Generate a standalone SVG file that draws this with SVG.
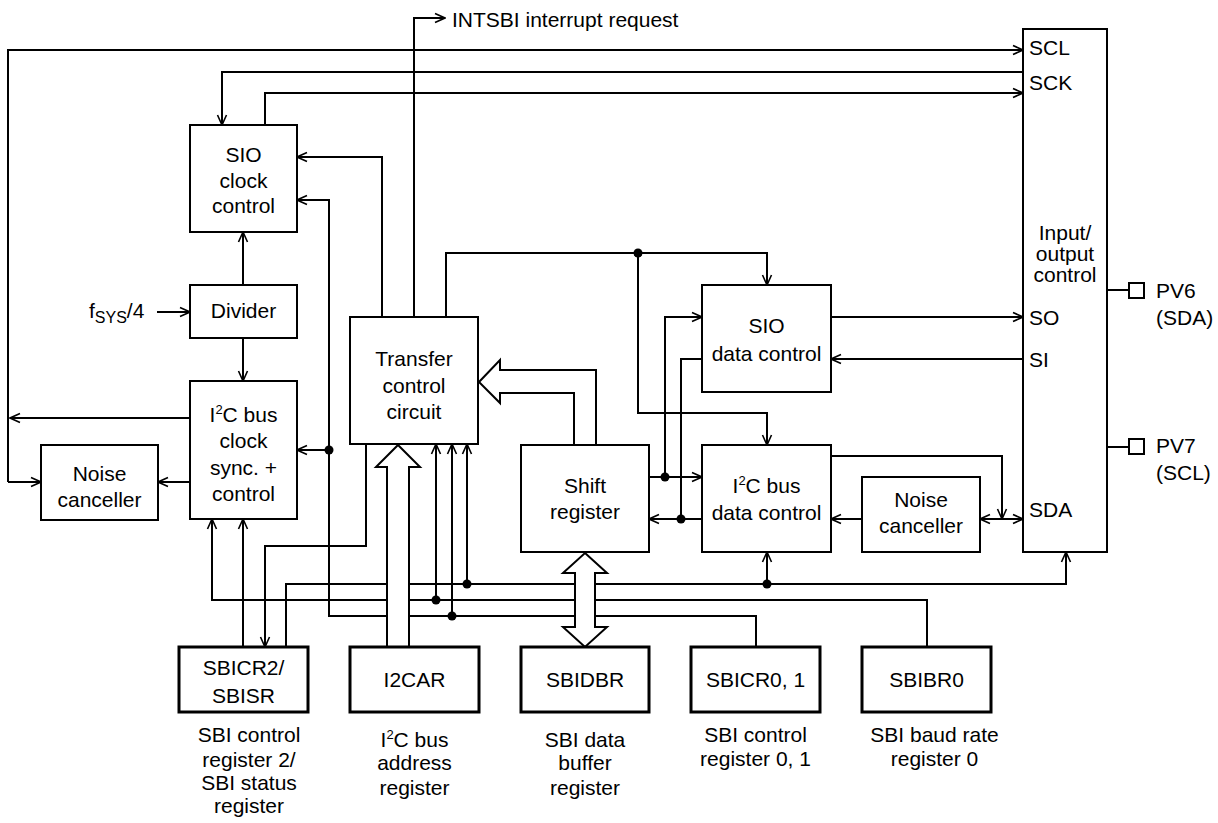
<svg xmlns="http://www.w3.org/2000/svg" width="1218" height="823" viewBox="0 0 1218 823">
<style>
text{font-family:"Liberation Sans",Arial,sans-serif;font-size:21px;fill:#000}
.c{text-anchor:middle}
.ln{fill:none;stroke:#000;stroke-width:2}
.ar{marker-end:url(#ah)}
.box{fill:#fff;stroke:#000;stroke-width:2}
.reg{fill:#fff;stroke:#000;stroke-width:3}
.hol{fill:#fff;stroke:#000;stroke-width:2;stroke-linejoin:miter}
.dot{fill:#000}
.sup{font-size:13px}
</style>
<defs>
<marker id="ah" viewBox="-12 -6 13 12" refX="0" refY="0" markerWidth="13" markerHeight="12" orient="auto-start-reverse" markerUnits="userSpaceOnUse">
<path d="M-10,-4.5 L0,0 L-10,4.5" fill="none" stroke="#000" stroke-width="1.6"/>
</marker>
</defs>
<g id="connectors">
<path class="ln ar" d="M190,418 L10,418"/>
<path class="ln ar" d="M8,482 L8,50 L1023,50"/>
<path class="ln ar" d="M8,482 L41,482"/>
<path class="ln ar" d="M1023,72 L222,72 L222,125"/>
<path class="ln ar" d="M265,125 L265,93 L1023,93"/>
<path class="ln ar" d="M414,317 L414,18 L445,18"/>
<path class="ln ar" d="M382,317 L382,157 L297,157"/>
<path class="ln ar" d="M756,647 L756,616 L329,616 L329,200 L297,200"/>
<path class="ln ar" d="M329,450 L297,450"/>
<path class="ln ar" d="M452,616 L452,444"/>
<path class="ln ar" d="M927,647 L927,600 L212,600 L212,519"/>
<path class="ln ar" d="M436,600 L436,444"/>
<path class="ln ar" d="M286,647 L286,584 L1066,584 L1066,552"/>
<path class="ln ar" d="M467,584 L467,444"/>
<path class="ln ar" d="M767,584 L767,552"/>
<path class="ln ar" d="M243,647 L243,519"/>
<path class="ln ar" d="M366,444 L366,546 L265,546 L265,647"/>
<path class="ln ar" d="M243,285 L243,232"/>
<path class="ln ar" d="M243,338 L243,381"/>
<path class="ln ar" d="M157,312 L190,312"/>
<path class="ln ar" d="M190,482 L158,482"/>
<path class="ln ar" d="M446,317 L446,253 L767,253 L767,285"/>
<path class="ln ar" d="M638,253 L638,413 L767,413 L767,445"/>
<path class="ln ar" d="M649,477 L702,477"/>
<path class="ln ar" d="M665,477 L665,317 L702,317"/>
<path class="ln ar" d="M702,519 L649,519"/>
<path class="ln" d="M702,359 L681,359 L681,519"/>
<path class="ln ar" d="M831,317 L1023,317"/>
<path class="ln ar" d="M1023,359 L831,359"/>
<path class="ln ar" d="M831,456 L1002,456 L1002,519"/>
<path class="ln ar" d="M980,519 L1023,519" marker-start="url(#ah)"/>
<path class="ln ar" d="M862,519 L831,519"/>
<path class="ln" d="M1107,290 L1129,290"/>
<path class="ln" d="M1107,447 L1129,447"/>
<circle class="dot" cx="329" cy="450" r="4.5"/>
<circle class="dot" cx="452" cy="616" r="4.5"/>
<circle class="dot" cx="436" cy="600" r="4.5"/>
<circle class="dot" cx="467" cy="584" r="4.5"/>
<circle class="dot" cx="767" cy="584" r="4.5"/>
<circle class="dot" cx="638" cy="253" r="4.5"/>
<circle class="dot" cx="665" cy="477" r="4.5"/>
<circle class="dot" cx="681" cy="519" r="4.5"/>
<polygon class="hol" points="398,445 420,467 409,467 409,647 387,647 387,467 376,467"/>
<polygon class="hol" points="585,553 607,573 595,573 595,627 607,627 585,647 563,627 575,627 575,573 563,573"/>
<polygon class="hol" points="479,382 500,360 500,370 596,370 596,445 574,445 574,393 500,393 500,403"/>
<text x="452" y="27">INTSBI interrupt request</text>
<text x="89" y="318">f<tspan font-size="16" dy="5">SYS</tspan><tspan dy="-5">/4</tspan></text>
</g>
<g id="sio-clock-control">
<rect class="box" x="190" y="125" width="107" height="107"/>
<text class="c" x="243.5" y="162">SIO</text>
<text class="c" x="243.5" y="188">clock</text>
<text class="c" x="243.5" y="213">control</text>
</g>
<g id="divider">
<rect class="box" x="190" y="285" width="107" height="53"/>
<text class="c" x="243.5" y="318">Divider</text>
</g>
<g id="i2c-clock-sync">
<rect class="box" x="190" y="381" width="107" height="138"/>
<text class="c" x="243.5" y="422">I<tspan class="sup" dy="-8">2</tspan><tspan dy="8">C bus</tspan></text>
<text class="c" x="243.5" y="448">clock</text>
<text class="c" x="243.5" y="475">sync. +</text>
<text class="c" x="243.5" y="501">control</text>
</g>
<g id="noise-canceller-1">
<rect class="box" x="41" y="445" width="117" height="75"/>
<text class="c" x="99.5" y="481">Noise</text>
<text class="c" x="99.5" y="507">canceller</text>
</g>
<g id="transfer-control">
<rect class="box" x="350" y="317" width="128" height="127"/>
<text class="c" x="414" y="366">Transfer</text>
<text class="c" x="414" y="393">control</text>
<text class="c" x="414" y="419">circuit</text>
</g>
<g id="shift-register">
<rect class="box" x="521" y="445" width="128" height="107"/>
<text class="c" x="585" y="493">Shift</text>
<text class="c" x="585" y="519">register</text>
</g>
<g id="sio-data-control">
<rect class="box" x="702" y="285" width="129" height="107"/>
<text class="c" x="766.5" y="333">SIO</text>
<text class="c" x="766.5" y="361">data control</text>
</g>
<g id="i2c-data-control">
<rect class="box" x="702" y="445" width="129" height="107"/>
<text class="c" x="766.5" y="493">I<tspan class="sup" dy="-8">2</tspan><tspan dy="8">C bus</tspan></text>
<text class="c" x="766.5" y="520">data control</text>
</g>
<g id="noise-canceller-2">
<rect class="box" x="862" y="477" width="118" height="75"/>
<text class="c" x="921" y="507">Noise</text>
<text class="c" x="921" y="533">canceller</text>
</g>
<g id="io-control">
<rect class="box" x="1023" y="29" width="84" height="523"/>
<text class="c" x="1065" y="240">Input/</text>
<text class="c" x="1065" y="261">output</text>
<text class="c" x="1065" y="282">control</text>
<text x="1029" y="55">SCL</text>
<text x="1029" y="90">SCK</text>
<text x="1029" y="325">SO</text>
<text x="1029" y="367">SI</text>
<text x="1029" y="517">SDA</text>
</g>
<g id="pv6">
<rect class="box" x="1129" y="283" width="15" height="15"/>
<text x="1156" y="298">PV6</text>
<text x="1156" y="325">(SDA)</text>
</g>
<g id="pv7">
<rect class="box" x="1129" y="439" width="15" height="15"/>
<text x="1156" y="453">PV7</text>
<text x="1156" y="480">(SCL)</text>
</g>
<g id="sbicr2">
<rect class="reg" x="179" y="647" width="129" height="65"/>
<text class="c" x="243.5" y="675">SBICR2/</text>
<text class="c" x="243.5" y="703">SBISR</text>
<text class="c" x="249" y="742">SBI control</text>
<text class="c" x="249" y="767">register 2/</text>
<text class="c" x="249" y="790">SBI status</text>
<text class="c" x="249" y="813">register</text>
</g>
<g id="i2car">
<rect class="reg" x="350" y="647" width="129" height="65"/>
<text class="c" x="414.5" y="687">I2CAR</text>
<text class="c" x="414.5" y="747">I<tspan class="sup" dy="-8">2</tspan><tspan dy="8">C bus</tspan></text>
<text class="c" x="414.5" y="770">address</text>
<text class="c" x="414.5" y="795">register</text>
</g>
<g id="sbidbr">
<rect class="reg" x="521" y="647" width="128" height="65"/>
<text class="c" x="585" y="687">SBIDBR</text>
<text class="c" x="585" y="747">SBI data</text>
<text class="c" x="585" y="770">buffer</text>
<text class="c" x="585" y="795">register</text>
</g>
<g id="sbicr01">
<rect class="reg" x="691" y="647" width="129" height="65"/>
<text class="c" x="755.5" y="687">SBICR0, 1</text>
<text class="c" x="755.5" y="742">SBI control</text>
<text class="c" x="755.5" y="766">register 0, 1</text>
</g>
<g id="sbibr0">
<rect class="reg" x="862" y="647" width="129" height="65"/>
<text class="c" x="926.5" y="687">SBIBR0</text>
<text class="c" x="934.5" y="742">SBI baud rate</text>
<text class="c" x="934.5" y="766">register 0</text>
</g>
</svg>
